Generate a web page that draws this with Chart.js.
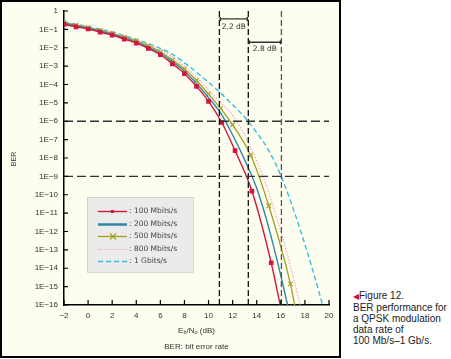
<!DOCTYPE html>
<html>
<head>
<meta charset="utf-8">
<script src="https://cdn.jsdelivr.net/npm/chart.js@4.4.1/dist/chart.umd.min.js"></script>
<style>
  body { margin: 0; background: #fff; }
  #box { position: absolute; left: 0; top: 0; width: 341px; height: 358px; box-sizing: border-box;
         border: 2px solid #000; background: #fdfdf0; }
  #grafico { position: absolute; left: 0; top: 0; z-index: 1; }
  #cap { position: absolute; left: 353px; top: 290px; font: 10px 'Liberation Sans', Arial, sans-serif;
         line-height: 11px; color: #222; white-space: nowrap; }
  #cap .flecha { color: #d0103a; font-size: 8px; }
</style>
</head>
<body>
<div id="box"></div>
<canvas id="grafico" width="340" height="357"></canvas>
<div id="cap"><span class="flecha">◀</span>Figure 12.<br>BER performance for<br>a QPSK modulation<br>data rate of<br>100 Mb/s–1 Gb/s.</div>
<script>
// Eb/N0 (dB) y exponente del BER (log10)
const snr100 = [-2, -1, 0, 1, 2, 3, 4, 5, 6, 7, 8, 9, 10, 11.1, 12.2, 13.6, 15.2, 15.95];
const ber100 = [-0.73, -0.86, -0.98, -1.15, -1.31, -1.53, -1.75, -2.04, -2.38, -2.88, -3.41, -4.1, -4.92, -6.07, -7.6, -9.8, -13.7, -16];

const snr200 = [-2, -1, 0, 1, 2, 3, 4, 5, 6, 7, 8, 9, 10, 11, 12, 13, 14, 15, 16, 16.56];
const ber200 = [-0.68, -0.81, -0.94, -1.1, -1.26, -1.47, -1.69, -1.97, -2.3, -2.77, -3.28, -3.95, -4.72, -5.55, -6.75, -8.1, -9.65, -11.8, -14.4, -16];

const snr500 = [-2, -1, 0, 1, 2, 3, 4, 5, 6, 7, 8, 9, 10, 11, 12, 13.5, 15, 16.8, 17.15];
const ber500 = [-0.64, -0.77, -0.9, -1.06, -1.22, -1.42, -1.63, -1.9, -2.22, -2.66, -3.16, -3.78, -4.52, -5.3, -6.2, -7.85, -10.6, -14.85, -16];

const snr800 = [-2, -1, 0, 1, 2, 3, 4, 5, 6, 7, 8, 9, 10, 11, 12, 13, 14, 15, 16, 17, 17.61];
const ber800 = [-0.62, -0.75, -0.88, -1.03, -1.18, -1.37, -1.57, -1.81, -2.1, -2.5, -3.02, -3.6, -4.3, -4.98, -5.68, -6.75, -8.15, -9.9, -12.0, -14.4, -16];

const snr1g = [-2, -1, 0, 1, 2, 3, 4, 5, 6, 7, 8, 9, 10, 11, 12, 13, 14, 15, 16, 17, 18, 19, 19.47];
const ber1g = [-0.6, -0.72, -0.85, -0.99, -1.14, -1.34, -1.55, -1.78, -2.04, -2.36, -2.82, -3.33, -3.88, -4.46, -5.1, -5.78, -6.62, -7.6, -8.95, -10.7, -12.7, -14.9, -16];

const etiquetas = [': 100 Mbits/s', ': 200 Mbits/s', ': 500 Mbits/s', ': 800 Mbits/s', ': 1 Gbits/s'];

// lineas de referencia
const nivelesBer = [-6, -9];
const lineasSnr = [10.9, 13.3, 16.05];
const margenes = ['2.2 dB', '2.8 dB'];

const fuente = "'Liberation Sans', Arial, sans-serif";

function puntos(xs, ys) {
    return xs.map((x, i) => ({ x: x, y: ys[i] }));
}

const series = [
    { label: etiquetas[0], data: puntos(snr100, ber100), borderColor: '#d4163c', backgroundColor: '#d4163c',
      borderWidth: 1.4, pointStyle: 'rect', pointRadius: ctx => ctx.dataIndex === snr100.length - 1 ? 0 : 2.3 },
    { label: etiquetas[1], data: puntos(snr200, ber200), borderColor: '#2f86a6', borderWidth: 1.4, pointRadius: 0 },
    { label: etiquetas[2], data: puntos(snr500, ber500), borderColor: '#a3a01e', backgroundColor: '#a3a01e',
      borderWidth: 1.3, pointStyle: 'crossRot', pointBorderWidth: 1.1,
      pointRadius: ctx => ctx.dataIndex === snr500.length - 1 ? 0 : 3.2 },
    { label: etiquetas[3], data: puntos(snr800, ber800), borderColor: '#f0a2ba', borderWidth: 1.1,
      borderDash: [1.5, 1.5], pointRadius: 0 },
    { label: etiquetas[4], data: puntos(snr1g, ber1g), borderColor: '#38bde0', borderWidth: 1.4,
      borderDash: [5, 3], pointRadius: 0 }
];
series.forEach(s => { s.cubicInterpolationMode = 'monotone'; s.esSerie = true; });

const referencias = [];
nivelesBer.forEach(n => referencias.push({
    data: [{ x: -2, y: n }, { x: 20, y: n }], borderColor: '#333', borderWidth: 1.4, borderDash: [9, 4], pointRadius: 0
}));
lineasSnr.forEach((s, i) => referencias.push({
    data: [{ x: s, y: 0 }, { x: s, y: -16 }], borderColor: i === 2 ? '#555' : '#111', borderWidth: 1.3,
    borderDash: [6, 3], pointRadius: 0
}));

const decoracion = {
    id: 'decoracion',
    afterDraw(chart) {
        const ctx = chart.ctx;
        const x = chart.scales.x;
        const y = chart.scales.y;
        const a = chart.chartArea;
        ctx.save();

        // marcas interiores
        ctx.strokeStyle = '#000';
        ctx.lineWidth = 1.2;
        ctx.beginPath();
        x.ticks.forEach(t => {
            const px = x.getPixelForValue(t.value);
            ctx.moveTo(px, a.bottom);
            ctx.lineTo(px, a.bottom - 5);
        });
        y.ticks.forEach(t => {
            const py = y.getPixelForValue(t.value);
            ctx.moveTo(a.left, py);
            ctx.lineTo(a.left + 4, py);
        });
        ctx.stroke();

        // corchetes de dB
        const corchetes = [[0, 1, -0.43, -0.86], [1, 2, -1.7, -2.08]];
        ctx.strokeStyle = '#333';
        ctx.fillStyle = '#333';
        ctx.lineWidth = 1.4;
        ctx.font = "7.5px 'DejaVu Sans', sans-serif";
        ctx.textAlign = 'center';
        ctx.textBaseline = 'middle';
        corchetes.forEach((c, i) => {
            const x1 = x.getPixelForValue(lineasSnr[c[0]]);
            const x2 = x.getPixelForValue(lineasSnr[c[1]]);
            const py = y.getPixelForValue(c[2]);
            ctx.beginPath();
            ctx.moveTo(x1, py); ctx.lineTo(x2, py);
            ctx.moveTo(x1 + 1, py - 2); ctx.lineTo(x1 + 1, py + 2);
            ctx.moveTo(x2 - 1, py - 2); ctx.lineTo(x2 - 1, py + 2);
            ctx.stroke();
            ctx.fillText(margenes[i], (x1 + x2) / 2, y.getPixelForValue(c[3]));
        });

        // leyenda
        ctx.fillStyle = '#ebebea';
        ctx.fillRect(87, 197, 106, 75);
        ctx.strokeStyle = '#b8b8b8';
        ctx.lineWidth = 1;
        ctx.setLineDash([1, 1]);
        ctx.strokeRect(87.5, 197.5, 106, 75);
        ctx.setLineDash([]);
        ctx.textAlign = 'left';
        ctx.font = "7.5px 'DejaVu Sans', sans-serif";
        chart.data.datasets.filter(d => d.esSerie).forEach((d, i) => {
            const py = Math.round(211 + i * 12.6) + 0.5;
            ctx.strokeStyle = d.borderColor;
            ctx.lineWidth = i === 1 ? 2.5 : d.borderWidth;
            ctx.setLineDash(d.borderDash || []);
            ctx.beginPath();
            ctx.moveTo(98, py); ctx.lineTo(127, py);
            ctx.stroke();
            ctx.setLineDash([]);
            if (d.pointStyle === 'rect') {
                ctx.fillStyle = d.borderColor;
                ctx.fillRect(111, py - 1.5, 3, 3);
            } else if (d.pointStyle === 'crossRot') {
                ctx.lineWidth = 1.1;
                ctx.beginPath();
                ctx.moveTo(110, py - 3); ctx.lineTo(116, py + 3);
                ctx.moveTo(116, py - 3); ctx.lineTo(110, py + 3);
                ctx.stroke();
            }
            ctx.fillStyle = '#444';
            ctx.fillText(d.label, 129, py);
        });

        // titulos de ejes
        const cx = (a.left + a.right) / 2;
        ctx.fillStyle = '#333';
        const partes = [['E', 8, 0], ['b', 5.5, 2], ['/N', 8, 0], ['o', 5.5, 2], [' (dB)', 8, 0]];
        let ancho = 0;
        partes.forEach(p => { ctx.font = p[1] + 'px ' + fuente; ancho += ctx.measureText(p[0]).width; });
        let px = cx - ancho / 2;
        partes.forEach(p => {
            ctx.font = p[1] + 'px ' + fuente;
            ctx.fillText(p[0], px, 330.5 + p[2]);
            px += ctx.measureText(p[0]).width;
        });
        ctx.font = '8px ' + fuente;
        ctx.textAlign = 'center';
        ctx.fillText('BER: bit error rate', cx, 346.5);

        ctx.translate(14, 159);
        ctx.rotate(-Math.PI / 2);
        ctx.font = '7px ' + fuente;
        ctx.fillText('BER', 0, 0);
        ctx.restore();
    }
};

const ctx = document.getElementById('grafico').getContext('2d');

new Chart(ctx, {
    type: 'line',
    data: { datasets: referencias.concat(series) },
    options: {
        responsive: false,
        animation: false,
        devicePixelRatio: 1,
        layout: { padding: { top: 11, right: 11, left: 0, bottom: 0 } },
        plugins: { legend: { display: false }, tooltip: { enabled: false } },
        scales: {
            x: {
                type: 'linear', min: -2, max: 20,
                afterFit: s => { s.height = 52; },
                grid: { drawOnChartArea: false, drawTicks: false },
                border: { color: '#000', width: 1.5 },
                ticks: {
                    stepSize: 2, padding: 6, color: '#333', font: { family: fuente, size: 8 },
                    callback: v => v < 0 ? '−' + (-v) : String(v)
                }
            },
            y: {
                type: 'linear', min: -16, max: 0,
                afterFit: s => { s.width = 64; },
                grid: { drawOnChartArea: false, drawTicks: false },
                border: { color: '#000', width: 1.5 },
                ticks: {
                    stepSize: 1, padding: 6, color: '#333', font: { family: fuente, size: 8 },
                    callback: v => v === 0 ? '1' : '1E−' + (-v)
                }
            }
        }
    },
    plugins: [decoracion]
});
</script>
</body>
</html>
